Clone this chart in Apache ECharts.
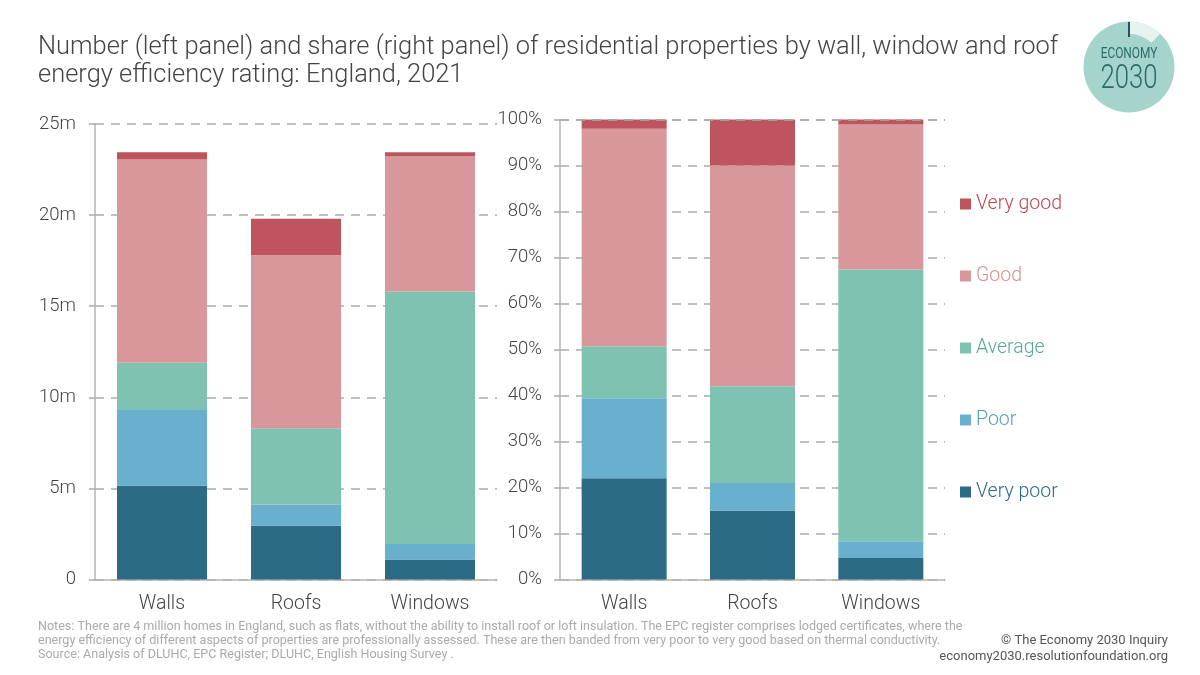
<!DOCTYPE html>
<html>
<head>
<meta charset="utf-8">
<style>html,body{margin:0;background:#fff}#chart{width:1200px;height:675px}</style>
<script src="https://cdn.jsdelivr.net/npm/echarts@6/dist/echarts.min.js"></script>
</head>
<body>
<div id="chart"></div>
<script>
var categories = ['Walls', 'Roofs', 'Windows'];
var bands = ['Very poor', 'Poor', 'Average', 'Good', 'Very good'];
var bandColors = ['#2c6b85', '#69b0cf', '#7ec2b2', '#d8989b', '#be545d'];
var legendTextColors = ['#2c6b85', '#4f9fc0', '#55a795', '#d58f93', '#b9474f'];

// millions of homes, left panel
var numberVeryPoor = [5.15, 2.95, 1.1];
var numberPoor = [4.15, 1.15, 0.85];
var numberAverage = [2.6, 4.2, 13.85];
var numberGood = [11.15, 9.5, 7.45];
var numberVeryGood = [0.4, 2.0, 0.2];

// percent of homes, right panel
var shareVeryPoor = [22, 15, 4.7];
var sharePoor = [17.4, 6, 3.6];
var shareAverage = [11.3, 21, 59.1];
var shareGood = [47.3, 48, 31.5];
var shareVeryGood = [2, 10, 1.1];

var numberValues = [numberVeryPoor, numberPoor, numberAverage, numberGood, numberVeryGood];
var shareValues = [shareVeryPoor, sharePoor, shareAverage, shareGood, shareVeryGood];

var titleLines = 'Number (left panel) and share (right panel) of residential properties by wall, window and roof\nenergy efficiency rating: England, 2021';
var notesLines = 'Notes: There are 4 million homes in England, such as flats, without the ability to install roof or loft insulation. The EPC register comprises lodged certificates, where the\nenergy efficiency of different aspects of properties are professionally assessed. These are then banded from very poor to very good based on thermal conductivity.\nSource: Analysis of DLUHC, EPC Register; DLUHC, English Housing Survey .';
var creditLines = '© The Economy 2030 Inquiry\neconomy2030.resolutionfoundation.org';

var font = 'Roboto, sans-serif';

function xAxis(index) {
    return {
        type: 'category',
        gridIndex: index,
        data: categories,
        axisLine: { lineStyle: { color: '#b5b5b5', width: 1.5 } },
        axisTick: { show: false },
        axisLabel: { color: '#444', fontFamily: font, fontWeight: 300, fontSize: 19.5, margin: 15 }
    };
}

function yAxis(index, max, interval, suffix, margin) {
    return {
        type: 'value',
        gridIndex: index,
        min: 0,
        max: max,
        interval: interval,
        axisLine: { show: true, lineStyle: { color: '#b5b5b5', width: 1.5 } },
        axisTick: { show: true, length: 6, lineStyle: { color: '#aaa', width: 1.5 } },
        splitLine: { show: true, lineStyle: { color: '#aaa', width: 1.5, type: [9, 7] } },
        axisLabel: {
            color: '#444', fontFamily: font, fontWeight: 300, fontSize: 18.5, margin: margin,
            padding: [0, 0, 5, 0],
            formatter: function(v) {
                return suffix == 'm' && v === 0 ? '0' : v + suffix;
            }
        }
    };
}

function bandSeries(values, index) {
    return bands.map(function(name, i) {
        return {
            name: name,
            type: 'bar',
            stack: 'panel' + index,
            xAxisIndex: index,
            yAxisIndex: index,
            barWidth: index == 0 ? 90 : 85,
            itemStyle: { color: bandColors[i] },
            data: values[i]
        };
    });
}

var series = bandSeries(numberValues, 0).concat(bandSeries(shareValues, 1));
// the 100% gridline runs over the top of the bars in the reference
series[series.length - 1].markLine = {
    silent: true,
    symbol: 'none',
    label: { show: false },
    lineStyle: { color: '#aaa', width: 1.5, type: [9, 7] },
    data: [{ yAxis: 100 }]
};

var chart = echarts.init(document.getElementById('chart'));
chart.setOption({
    animation: false,
    backgroundColor: '#fff',
    textStyle: { fontFamily: font },
    grid: [
        { left: 95, right: 703, top: 124, height: 455.5 },
        { left: 560, right: 255, top: 119.5, height: 460 }
    ],
    xAxis: [xAxis(0), xAxis(1)],
    yAxis: [yAxis(0, 25, 5, 'm', 19), yAxis(1, 100, 10, '%', 18)],
    legend: {
        orient: 'vertical',
        left: 960,
        top: 194,
        padding: 0,
        itemWidth: 11,
        itemHeight: 11,
        itemGap: 52,
        icon: 'rect',
        selectedMode: false,
        data: bands.slice().reverse().map(function(name) {
            return {
                name: name,
                textStyle: { color: legendTextColors[bands.indexOf(name)], fontFamily: font, fontWeight: 300, fontSize: 19.5, padding: [0, 0, 5, 0] }
            };
        })
    },
    series: series,
    graphic: [
        { type: 'text', left: 38, top: 34, style: { text: titleLines, fill: '#444', font: '300 25.45px ' + font, lineHeight: 28 } },
        { type: 'text', left: 38, top: 620, style: { text: notesLines, fill: '#aaa', font: '12.55px ' + font, lineHeight: 14 } },
        { type: 'text', x: 1168, y: 633, style: { text: creditLines, fill: '#555', align: 'right', font: '13px ' + font, lineHeight: 16 } },
        // logo
        { type: 'circle', shape: { cx: 1129, cy: 67, r: 45.5 }, style: { fill: '#a5d4cc' } },
        { type: 'sector', shape: { cx: 1129, cy: 67, r: 45.5, r0: 33, startAngle: -Math.PI / 2, endAngle: -Math.PI / 2 + 0.75 }, style: { fill: '#e6f3f0' } },
        { type: 'line', shape: { x1: 1129, y1: 22, x2: 1129, y2: 37 }, style: { stroke: '#2f4f55', lineWidth: 2 } },
        { type: 'text', x: 1129, y: 54, scaleX: 0.85, style: { text: 'ECONOMY', fill: '#2a6d68', align: 'center', verticalAlign: 'middle', font: '14px ' + font } },
        { type: 'text', x: 1129, y: 80, scaleX: 0.78, style: { text: '2030', fill: '#2a6d68', align: 'center', verticalAlign: 'middle', font: '300 33px ' + font } }
    ]
});
</script>
</body>
</html>
